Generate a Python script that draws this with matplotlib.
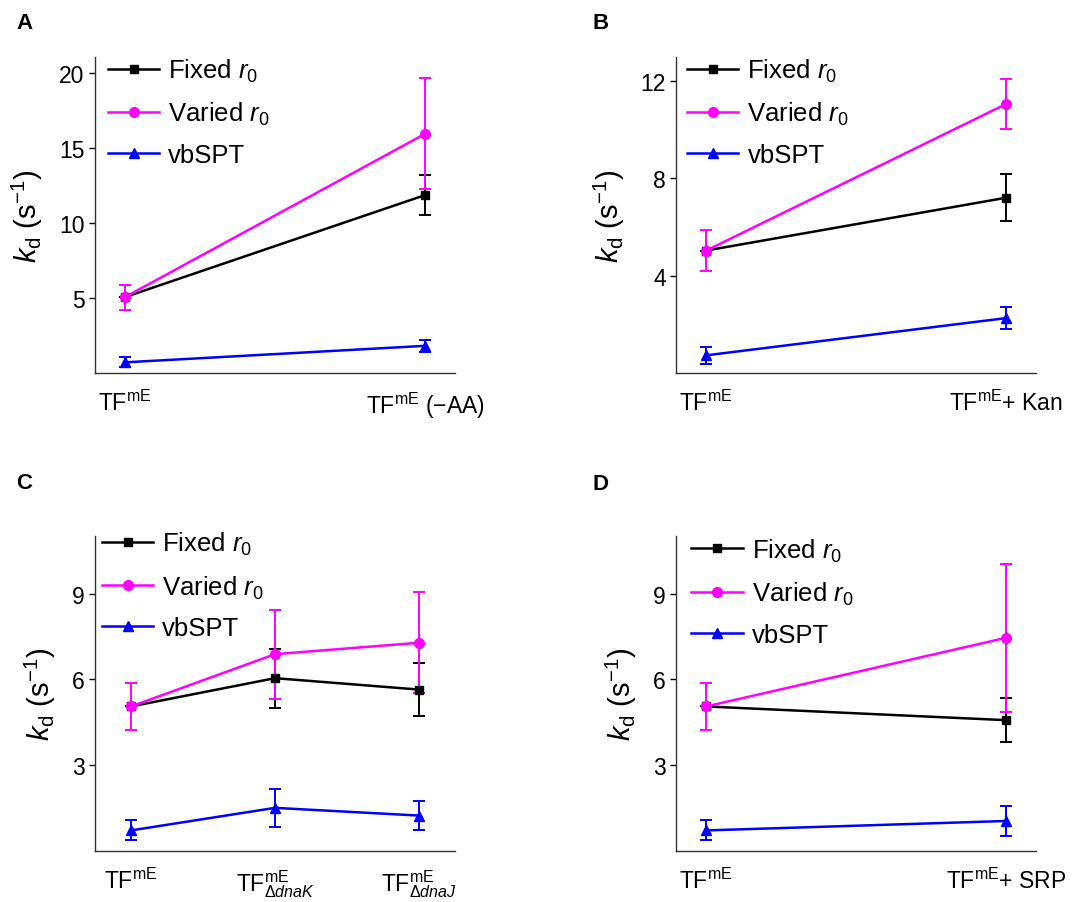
import matplotlib
matplotlib.use('Agg')
from matplotlib import pyplot as plt
import numpy as np

plt.rcParams['font.family'] = ['Liberation Sans', 'DejaVu Sans']
plt.rcParams['mathtext.fontset'] = 'custom'
plt.rcParams['mathtext.rm'] = 'Liberation Sans'
plt.rcParams['mathtext.it'] = 'Liberation Sans:italic'
plt.rcParams['mathtext.bf'] = 'Liberation Sans:bold'

#%% data - k_d values (1/s) and errors per condition
series_names = [r'Fixed $r_0$', r'Varied $r_0$', 'vbSPT']

labels_A = [r'TF$^{\mathrm{mE}}$', r'TF$^{\mathrm{mE}}$ (−AA)']
fixed_A = [5.05, 11.85]
fixed_A_err = [0.0, 1.35]
varied_A = [5.05, 15.93]
varied_A_err = [0.83, 3.7]
vbspt_A = [0.7, 1.8]
vbspt_A_err = [0.33, 0.4]

labels_B = [r'TF$^{\mathrm{mE}}$', r'TF$^{\mathrm{mE}}$+ Kan']
fixed_B = [5.03, 7.2]
fixed_B_err = [0.0, 0.97]
varied_B = [5.03, 11.05]
varied_B_err = [0.83, 1.03]
vbspt_B = [0.72, 2.25]
vbspt_B_err = [0.35, 0.44]

labels_C = [r'TF$^{\mathrm{mE}}$', r'TF$^{\mathrm{mE}}_{\Delta\mathit{dnaK}}$',
            r'TF$^{\mathrm{mE}}_{\Delta\mathit{dnaJ}}$']
fixed_C = [5.05, 6.04, 5.64]
fixed_C_err = [0.0, 1.03, 0.92]
varied_C = [5.05, 6.88, 7.28]
varied_C_err = [0.82, 1.56, 1.77]
vbspt_C = [0.71, 1.5, 1.23]
vbspt_C_err = [0.35, 0.66, 0.52]

labels_D = [r'TF$^{\mathrm{mE}}$', r'TF$^{\mathrm{mE}}$+ SRP']
fixed_D = [5.05, 4.57]
fixed_D_err = [0.0, 0.78]
varied_D = [5.05, 7.45]
varied_D_err = [0.82, 2.6]
vbspt_D = [0.71, 1.04]
vbspt_D_err = [0.35, 0.51]

yticks_A = [5, 10, 15, 20]
yticks_B = [4, 8, 12]
yticks_C = [3, 6, 9]
yticks_D = [3, 6, 9]

#%% plotting
fig = plt.figure(figsize=(10.86, 9.03), dpi=100)

def panel(rect, labels, fixed, fixed_err, varied, varied_err, vbspt, vbspt_err,
          yticks, ylim, legend_x, legend_y):
    ax = fig.add_axes(rect)
    x = np.arange(1, len(labels) + 1)
    ax.errorbar(x, fixed, yerr=fixed_err, color='k', marker='s', ms=6, lw=1.8,
                elinewidth=1.4, capsize=4, capthick=1.4, label=series_names[0])
    ax.errorbar(x, varied, yerr=varied_err, color='#ff00ff', marker='o', ms=7, lw=1.8,
                elinewidth=1.4, capsize=4, capthick=1.4, label=series_names[1])
    ax.errorbar(x, vbspt, yerr=vbspt_err, color='#0000ff', marker='^', ms=7, lw=1.8,
                elinewidth=1.4, capsize=4, capthick=1.4, label=series_names[2])
    pad = 0.1 if len(labels) == 2 else 0.25
    ax.set_xlim(1 - pad, len(labels) + pad)
    ax.set_ylim(*ylim)
    ax.set_xticks(x)
    ax.set_xticklabels(labels, fontsize=16.5)
    ax.set_yticks(yticks)
    ax.tick_params(axis='y', labelsize=16.5, direction='out', length=4, width=1, colors='k')
    ax.tick_params(axis='x', length=0, pad=12)
    for s in ['top', 'right']:
        ax.spines[s].set_visible(False)
    for s in ['left', 'bottom']:
        ax.spines[s].set_color('#333333')
        ax.spines[s].set_linewidth(1.0)
    ax.set_ylabel(r'$k_{\mathrm{d}}$ (s$^{-1}$)', fontsize=21, labelpad=10)
    h, l = ax.get_legend_handles_labels()
    h = [hh[0] for hh in h]
    ax.legend(h, l, loc='upper left', bbox_to_anchor=(legend_x, legend_y), frameon=False,
              fontsize=18.5, handlelength=2.0, handletextpad=0.35, labelspacing=0.62,
              borderaxespad=0, borderpad=0)
    return ax

panel([0.0875, 0.586, 0.3315, 0.350], labels_A, fixed_A, fixed_A_err, varied_A, varied_A_err,
      vbspt_A, vbspt_A_err, yticks_A, (0, 21.07), 0.036, 1.0)
panel([0.6227, 0.586, 0.331, 0.350], labels_B, fixed_B, fixed_B_err, varied_B, varied_B_err,
      vbspt_B, vbspt_B_err, yticks_B, (0, 13.0), 0.03, 1.0)
panel([0.0875, 0.0568, 0.3315, 0.348], labels_C, fixed_C, fixed_C_err, varied_C, varied_C_err,
      vbspt_C, vbspt_C_err, yticks_C, (0, 11.0), 0.019, 1.02)
panel([0.6227, 0.0568, 0.331, 0.348], labels_D, fixed_D, fixed_D_err, varied_D, varied_D_err,
      vbspt_D, vbspt_D_err, yticks_D, (0, 11.0), 0.042, 1.0)

for lab, px, py in [('A', 16, 13), ('B', 592, 13), ('C', 16, 473), ('D', 592, 474)]:
    fig.text(px / 1086, 1 - py / 903, lab, fontsize=16, fontweight='bold', ha='left', va='top')

plt.savefig('out.png', dpi=100)
